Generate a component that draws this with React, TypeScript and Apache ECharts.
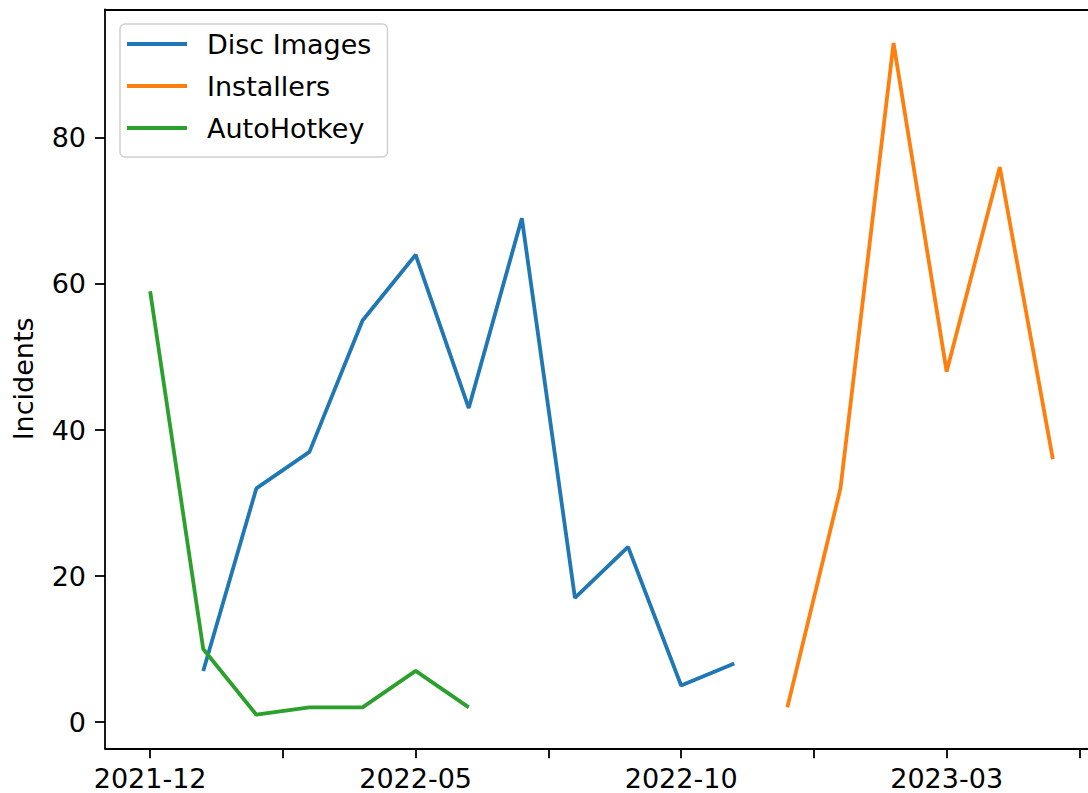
import React, { useEffect, useRef } from "react";
import * as echarts from "echarts";

const months = [
  "2021-12", "2022-01", "2022-02", "2022-03", "2022-04", "2022-05",
  "2022-06", "2022-07", "2022-08", "2022-09", "2022-10", "2022-11",
  "2022-12", "2023-01", "2023-02", "2023-03", "2023-04", "2023-05",
];

const discImagesStart = "2022-01";
const discImages = [7, 32, 37, 55, 64, 43, 69, 17, 24, 5, 8];

const installersStart = "2022-12";
const installers = [2, 32, 93, 48, 76, 36];

const autoHotkeyStart = "2021-12";
const autoHotkey = [59, 10, 1, 2, 2, 7, 2];

const xTickValues = [0, 2.5, 5, 7.5, 10, 12.5, 15, 17.5];
const xLabelValues = [0, 5, 10, 15];
const yTickValues = [0, 20, 40, 60, 80];

const FONT = "DejaVu Sans";
const LINE_W = 3.8;

function toPairs(start: string, vals: number[]) {
  const s = months.indexOf(start);
  return vals.map((v, i) => [s + i, v]);
}

export default function App() {
  const ref = useRef<HTMLDivElement>(null);
  useEffect(() => {
    if (!ref.current) return;
    const chart = echarts.init(ref.current, undefined, { renderer: "svg" });
    const xMin = -0.85;
    const xMax = 17.85;
    const yMin = -3.6;
    const yMax = 97.6;
    const axisColor = "#000";
    chart.setOption({
      animation: false,
      backgroundColor: "#fff",
      textStyle: { fontFamily: FONT },
      grid: {
        left: 105,
        top: 9.5,
        right: -10,
        bottom: 44.7,
        containLabel: false,
        outerBoundsMode: "none",
      },
      legend: {
        orient: "vertical",
        left: 120,
        top: 24,
        itemWidth: 60,
        itemHeight: 27,
        itemGap: 15,
        icon: "path://M0 0H60V3.8H0Z",
        symbolKeepAspect: true,
        itemStyle: { borderWidth: 0 },
        padding: [6.5, 16, 15.5, 7],
        backgroundColor: "rgba(255,255,255,0.8)",
        borderColor: "#d0d0d0",
        borderWidth: 1.5,
        borderRadius: 5,
        textStyle: {
          fontFamily: FONT,
          fontSize: 27,
          lineHeight: 27,
          color: "#000",
          padding: [0, 0, 0, 15],
        },
        data: ["Disc Images", "Installers", "AutoHotkey"],
      },
      xAxis: [
        {
          type: "value",
          min: xMin,
          max: xMax,
          position: "bottom",
          splitLine: { show: false },
          axisLine: { show: true, onZero: false, lineStyle: { color: axisColor, width: 1.8 } },
          axisTick: {
            show: true,
            length: 10,
            customValues: xTickValues,
            lineStyle: { color: axisColor, width: 1.8 },
          },
          axisLabel: {
            show: true,
            customValues: xLabelValues,
            margin: 17,
            fontFamily: FONT,
            fontSize: 27,
            color: "#000",
            formatter: (v: number) => months[Math.round(v)] ?? "",
          },
        },
        {
          type: "value",
          min: xMin,
          max: xMax,
          position: "top",
          splitLine: { show: false },
          axisLine: { show: true, onZero: false, lineStyle: { color: axisColor, width: 1.8 } },
          axisTick: { show: false },
          axisLabel: { show: false },
        },
      ],
      yAxis: {
        type: "value",
        min: yMin,
        max: yMax,
        name: "Incidents",
        nameLocation: "middle",
        nameGap: 68,
        nameTextStyle: { fontFamily: FONT, fontSize: 27, color: "#000" },
        splitLine: { show: false },
        axisLine: { show: true, onZero: false, lineStyle: { color: axisColor, width: 1.8 } },
        axisTick: {
          show: true,
          length: 10,
          customValues: yTickValues,
          lineStyle: { color: axisColor, width: 1.8 },
        },
        axisLabel: {
          show: true,
          customValues: yTickValues,
          margin: 19,
          fontFamily: FONT,
          fontSize: 27,
          color: "#000",
        },
      },
      series: [
        {
          name: "Disc Images",
          type: "line",
          data: toPairs(discImagesStart, discImages),
          symbol: "none",
          lineStyle: { color: "#1f77b4", width: LINE_W },
          itemStyle: { color: "#1f77b4" },
        },
        {
          name: "Installers",
          type: "line",
          data: toPairs(installersStart, installers),
          symbol: "none",
          lineStyle: { color: "#ff7f0e", width: LINE_W },
          itemStyle: { color: "#ff7f0e" },
        },
        {
          name: "AutoHotkey",
          type: "line",
          data: toPairs(autoHotkeyStart, autoHotkey),
          symbol: "none",
          lineStyle: { color: "#2ca02c", width: LINE_W },
          itemStyle: { color: "#2ca02c" },
        },
      ],
    });
    return () => chart.dispose();
  }, []);
  return (
    <div
      ref={ref}
      style={{ position: "absolute", left: 0, top: 0, width: 1088, height: 793 }}
    />
  );
}
